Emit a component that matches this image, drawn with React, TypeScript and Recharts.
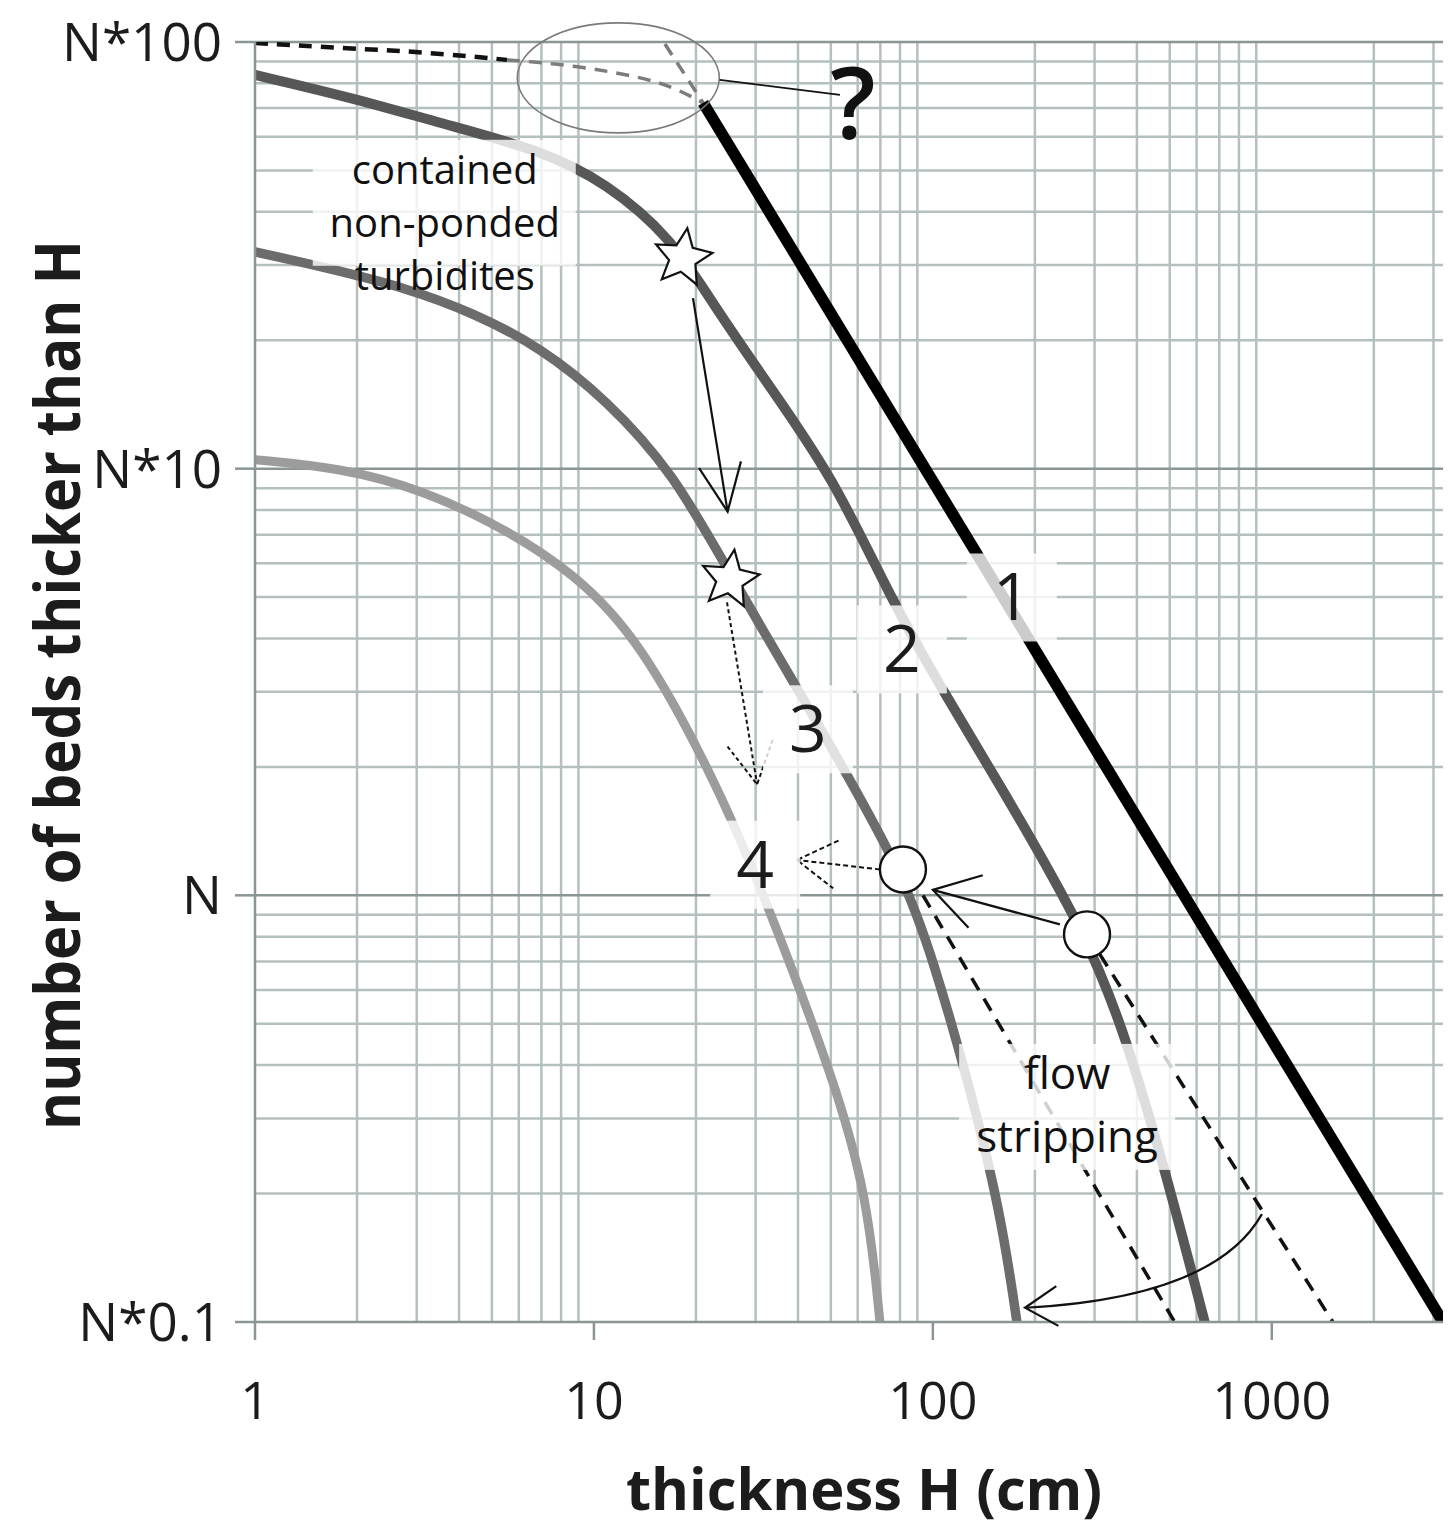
import React from "react";
import {
  ComposedChart,
  Line,
  XAxis,
  YAxis,
  ReferenceLine,
  ReferenceDot,
} from "recharts";

const FONT = "'Open Sans', 'Noto Sans', sans-serif";
const INK = "#1c1c1c";

// axis ticks and grid positions (x: thickness in cm, y: multiples of N)
const X_TICKS = [1, 10, 100, 1000];
const Y_TICKS = [0.1, 1, 10, 100];
const Y_TICK_LABELS = ["N*0.1", "N", "N*10", "N*100"];
const X_GRID = [
  2, 3, 4, 5, 6, 7, 8, 9, 20, 30, 40, 50, 60, 70, 80, 90, 200, 300, 400, 500,
  600, 700, 800, 900, 2000, 3000,
];
const Y_GRID = [
  0.2, 0.3, 0.4, 0.5, 0.6, 0.7, 0.8, 0.9, 2, 3, 4, 5, 6, 7, 8, 9, 20, 30, 40,
  50, 60, 70, 80, 90,
];
const Y_GRID_MAJOR = [1, 10, 100];

// 1: unconfined power law
const BED_1 = [
  { x: 21, y: 72 },
  { x: 3200, y: 0.1 },
];
const BED_1_UP = [
  { x: 16.2, y: 98.9 },
  { x: 21, y: 72 },
];
// uncertain small-bed segment
const TOP_TAPER_A = [
  { x: 1, y: 99.5 },
  { x: 1.78, y: 96.8 },
  { x: 3.13, y: 94.8 },
  { x: 5.54, y: 90.8 },
];
const TOP_TAPER_B = [
  { x: 5.54, y: 90.8 },
  { x: 8.67, y: 88.3 },
  { x: 13.7, y: 82.8 },
  { x: 17.1, y: 78.5 },
  { x: 21, y: 72 },
];
// 2-4: contained, progressively thinner populations
const BED_2 = [
  { x: 1, y: 83.7 },
  { x: 1.95, y: 73.9 },
  { x: 3.51, y: 64.6 },
  { x: 6.93, y: 55.9 },
  { x: 10.9, y: 46.8 },
  { x: 17.1, y: 34.4 },
  { x: 22, y: 24.9 },
  { x: 32.4, y: 15.9 },
  { x: 50.7, y: 9.58 },
  { x: 74.7, y: 5.01 },
  { x: 105, y: 3.09 },
  { x: 150, y: 1.94 },
  { x: 285, y: 0.81 },
  { x: 373, y: 0.46 },
  { x: 490, y: 0.22 },
  { x: 634, y: 0.1 },
];
const BED_3 = [
  { x: 1, y: 32.2 },
  { x: 1.59, y: 29.7 },
  { x: 2.81, y: 26.5 },
  { x: 4.4, y: 23.2 },
  { x: 6.93, y: 19.3 },
  { x: 10.9, y: 14.5 },
  { x: 17.1, y: 9.79 },
  { x: 24.3, y: 5.96 },
  { x: 37.9, y: 3.26 },
  { x: 55.5, y: 1.94 },
  { x: 82.7, y: 1.09 },
  { x: 100, y: 0.708 },
  { x: 126, y: 0.377 },
  { x: 158, y: 0.184 },
  { x: 177, y: 0.1 },
];
const BED_4 = [
  { x: 1, y: 10.5 },
  { x: 1.78, y: 10.05 },
  { x: 3.13, y: 8.93 },
  { x: 5.54, y: 7.19 },
  { x: 8.67, y: 5.71 },
  { x: 13.7, y: 3.98 },
  { x: 23.5, y: 1.77 },
  { x: 32.4, y: 0.96 },
  { x: 50.7, y: 0.377 },
  { x: 63.9, y: 0.2 },
  { x: 69.8, y: 0.1 },
];
// flow-stripping continuations
const STRIP_A = [
  { x: 93.5, y: 1.0 },
  { x: 517, y: 0.1 },
];
const STRIP_B = [
  { x: 311, y: 0.727 },
  { x: 1514, y: 0.1 },
];

const STARS = [
  { x: 18.3, y: 31.2 },
  { x: 25.2, y: 5.5 },
];
const CIRCLES = [
  { x: 81.6, y: 1.15 },
  { x: 285, y: 0.81 },
];

// arrows: [from, to]
const ARROW_STAR = [{ x: 19.6, y: 25.1 }, { x: 24.8, y: 7.93 }];
const ARROW_STAR_2 = [{ x: 24.7, y: 4.86 }, { x: 30.3, y: 1.82 }];
const ARROW_TO_4 = [{ x: 69.8, y: 1.15 }, { x: 39.7, y: 1.21 }];
const ARROW_CIRCLES = [{ x: 237, y: 0.855 }, { x: 100, y: 1.03 }];
const ARROW_STRIP = [{ x: 935, y: 0.179 }, { x: 187, y: 0.108 }];
const QUERY_LEADER = [{ x: 23.5, y: 81.5 }, { x: 53.2, y: 75.2 }];
const QUERY_RING = { x: 11.8, y: 82.4 };

const CURVE_LABELS = [
  { x: 171, y: 4.99, text: "1" },
  { x: 81, y: 3.77, text: "2" },
  { x: 42.8, y: 2.45, text: "3" },
  { x: 29.9, y: 1.18, text: "4" },
];
const NOTE_CONTAINED = { x: 3.63, y: 37.9, lines: ["contained", "non-ponded", "turbidites"] };
const NOTE_STRIP = { x: 249, y: 0.321, lines: ["flow", "stripping"] };
const NOTE_QUERY = { x: 58.1, y: 72, text: "?" };

const XTick = ({ x, y, payload }: any) => (
  <text x={x} y={y} dy={77} textAnchor="middle" fontSize={52} fontFamily={FONT} fill={INK}>
    {payload.value}
  </text>
);

const YTick = ({ x, y, payload }: any) => {
  const i = Y_TICKS.indexOf(payload.value);
  return (
    <text x={x} y={y} dx={-11} dy={19} textAnchor="end" fontSize={53} fontFamily={FONT} fill={INK}>
      {Y_TICK_LABELS[i]}
    </text>
  );
};

const starShape = ({ cx, cy }: any) => {
  const pts: string[] = [];
  for (let i = 0; i < 10; i++) {
    const r = i % 2 === 0 ? 30 : 14;
    const a = -Math.PI / 2 + (i * Math.PI) / 5 + 0.15;
    pts.push(`${cx + r * Math.cos(a)},${cy + r * Math.sin(a)}`);
  }
  return <polygon points={pts.join(" ")} fill="#fff" stroke="#111" strokeWidth={2.2} />;
};

const circleShape = ({ cx, cy }: any) => (
  <circle cx={cx} cy={cy} r={23} fill="#fff" stroke="#111" strokeWidth={2.4} />
);

const ringShape = ({ cx, cy }: any) => (
  <ellipse cx={cx} cy={cy} rx={101} ry={55} fill="none" stroke="#7a7a7a" strokeWidth={1.6} />
);

const curveLabelShape = (text: string) => ({ cx, cy }: any) => (
  <g>
    <rect x={cx - 45} y={cy - 44} width={90} height={88} fill="#fff" fillOpacity={0.8} />
    <text x={cx} y={cy} dy={23} textAnchor="middle" fontSize={66} fontFamily={FONT} fill={INK}>
      {text}
    </text>
  </g>
);

const noteShape = (
  lines: string[],
  box: [number, number, number, number],
  gap: number,
  first: number,
  size: number,
) =>
  ({ cx, cy }: any) => (
    <g>
      <rect x={cx + box[0]} y={cy + box[1]} width={box[2]} height={box[3]} fill="#fff" fillOpacity={0.8} />
      {lines.map((t, i) => (
        <text
          key={t}
          x={cx}
          y={cy + first + i * gap}
          textAnchor="middle"
          fontSize={size}
          fontFamily={FONT}
          fill="#111"
        >
          {t}
        </text>
      ))}
    </g>
  );

const queryShape = ({ cx, cy }: any) => (
  <text x={cx} y={cy} dy={36} textAnchor="middle" fontSize={100} fontWeight={600} fontFamily={FONT} fill="#111">
    ?
  </text>
);

// straight arrow with an open V head at the second point
const arrowShape = (dash?: string, head = 48, spread = 0.5) => (p: any) => {
  const { x1, y1, x2, y2 } = p;
  const a = Math.atan2(y2 - y1, x2 - x1) + Math.PI;
  const h1 = [x2 + head * Math.cos(a - spread), y2 + head * Math.sin(a - spread)];
  const h2 = [x2 + head * Math.cos(a + spread), y2 + head * Math.sin(a + spread)];
  return (
    <g stroke="#111" strokeWidth={dash ? 2 : 2.2} strokeDasharray={dash} fill="none">
      <line x1={x1} y1={y1} x2={x2} y2={y2} />
      <polyline points={`${h1[0]},${h1[1]} ${x2},${y2} ${h2[0]},${h2[1]}`} />
    </g>
  );
};

// bowed arrow for the flow-stripping shift
const bentArrowShape = (p: any) => {
  const { x1, y1, x2, y2 } = p;
  const qx = x1 + (x2 - x1) * 0.2;
  const qy = y2 - 10;
  const a = Math.atan2(y2 - qy, x2 - qx) + Math.PI;
  const head = 38;
  const h1 = [x2 + head * Math.cos(a - 0.55), y2 + head * Math.sin(a - 0.55)];
  const h2 = [x2 + head * Math.cos(a + 0.55), y2 + head * Math.sin(a + 0.55)];
  return (
    <g stroke="#111" strokeWidth={2.2} fill="none">
      <path d={`M${x1},${y1} Q${qx},${qy} ${x2},${y2}`} />
      <polyline points={`${h1[0]},${h1[1]} ${x2},${y2} ${h2[0]},${h2[1]}`} />
    </g>
  );
};

const plainLine = (p: any) => (
  <line x1={p.x1} y1={p.y1} x2={p.x2} y2={p.y2} stroke="#111" strokeWidth={1.8} />
);

const GRID = "#b5bfbf";
const GRID_DARK = "#8b9595";

export default function App() {
  return (
    <div style={{ position: "absolute", left: 0, top: 0, width: 1453, height: 1533, background: "#fff" }}>
      <ComposedChart width={1453} height={1533} margin={{ top: 42, right: 10, bottom: 0, left: 0 }}>
        <XAxis
          type="number"
          dataKey="x"
          scale="log"
          domain={[1, 3200]}
          allowDataOverflow
          ticks={X_TICKS}
          interval={0}
          height={211}
          tickSize={18}
          tick={<XTick />}
          axisLine={{ stroke: GRID_DARK, strokeWidth: 2.5 }}
          tickLine={{ stroke: GRID_DARK, strokeWidth: 2.5 }}
        />
        <YAxis
          type="number"
          dataKey="y"
          scale="log"
          domain={[0.1, 100]}
          allowDataOverflow
          ticks={Y_TICKS}
          interval={0}
          width={255}
          tickSize={20}
          tick={<YTick />}
          axisLine={{ stroke: GRID_DARK, strokeWidth: 2.5 }}
          tickLine={{ stroke: GRID_DARK, strokeWidth: 2.5 }}
        />

        {X_GRID.map((v) => (
          <ReferenceLine key={`gx${v}`} x={v} stroke={GRID} strokeWidth={2.5} zIndex={-100} />
        ))}
        {Y_GRID.map((v) => (
          <ReferenceLine key={`gy${v}`} y={v} stroke={GRID} strokeWidth={2.5} zIndex={-100} />
        ))}
        {Y_GRID_MAJOR.map((v) => (
          <ReferenceLine key={`gm${v}`} y={v} stroke={GRID_DARK} strokeWidth={2.5} zIndex={-100} />
        ))}

        <Line data={TOP_TAPER_A} dataKey="y" type="basis" dot={false} stroke="#111" strokeWidth={4.5} strokeDasharray="13 9" isAnimationActive={false} />
        <Line data={TOP_TAPER_B} dataKey="y" type="basis" dot={false} stroke="#7c7c7c" strokeWidth={3.5} strokeDasharray="13 9" isAnimationActive={false} />
        <Line data={BED_1_UP} dataKey="y" type="linear" dot={false} stroke="#7c7c7c" strokeWidth={3.5} strokeDasharray="13 9" isAnimationActive={false} />
        <Line data={STRIP_A} dataKey="y" type="linear" dot={false} stroke="#111" strokeWidth={3.5} strokeDasharray="14 10" isAnimationActive={false} />
        <Line data={STRIP_B} dataKey="y" type="linear" dot={false} stroke="#111" strokeWidth={3.5} strokeDasharray="14 10" isAnimationActive={false} />
        <Line data={BED_4} dataKey="y" type="basis" dot={false} stroke="#9c9c9c" strokeWidth={9} isAnimationActive={false} />
        <Line data={BED_3} dataKey="y" type="basis" dot={false} stroke="#6c6c6c" strokeWidth={9.5} isAnimationActive={false} />
        <Line data={BED_2} dataKey="y" type="basis" dot={false} stroke="#575757" strokeWidth={10} isAnimationActive={false} />
        <Line data={BED_1} dataKey="y" type="linear" dot={false} stroke="#000" strokeWidth={11.5} isAnimationActive={false} />

        <ReferenceDot x={QUERY_RING.x} y={QUERY_RING.y} shape={ringShape} zIndex={1500} />
        <ReferenceLine segment={QUERY_LEADER} shape={plainLine} zIndex={1500} />
        <ReferenceLine segment={ARROW_STAR} shape={arrowShape(undefined, 52, 0.42)} zIndex={1500} />
        <ReferenceLine segment={ARROW_STAR_2} shape={arrowShape("4 3", 48, 0.5)} zIndex={1500} />
        <ReferenceLine segment={ARROW_TO_4} shape={arrowShape("5 3", 46, 0.55)} zIndex={1500} />
        <ReferenceLine segment={ARROW_CIRCLES} shape={arrowShape(undefined, 52, 0.55)} zIndex={1500} />
        <ReferenceLine segment={ARROW_STRIP} shape={bentArrowShape} zIndex={1500} />

        {CURVE_LABELS.map((l) => (
          <ReferenceDot key={l.text} x={l.x} y={l.y} shape={curveLabelShape(l.text)} zIndex={1600} />
        ))}
        <ReferenceDot
          x={NOTE_CONTAINED.x}
          y={NOTE_CONTAINED.y}
          shape={noteShape(NOTE_CONTAINED.lines, [-132, -82, 263, 126], 53, -38, 40)}
          zIndex={1600}
        />
        <ReferenceDot
          x={NOTE_STRIP.x}
          y={NOTE_STRIP.y}
          shape={noteShape(NOTE_STRIP.lines, [-108, -62, 216, 126], 63, -17, 44)}
          zIndex={1600}
        />
        <ReferenceDot x={NOTE_QUERY.x} y={NOTE_QUERY.y} shape={queryShape} zIndex={1600} />

        {STARS.map((s, i) => (
          <ReferenceDot key={`s${i}`} x={s.x} y={s.y} shape={starShape} zIndex={1700} />
        ))}
        {CIRCLES.map((c, i) => (
          <ReferenceDot key={`c${i}`} x={c.x} y={c.y} shape={circleShape} zIndex={1700} />
        ))}
      </ComposedChart>

      <svg width={1453} height={1533} style={{ position: "absolute", left: 0, top: 0, pointerEvents: "none" }}>
        <text
          transform="translate(80,685) rotate(-90)"
          textAnchor="middle"
          fontSize={62}
          fontWeight={700}
          fontFamily={FONT}
          fill={INK}
          textLength={890}
          lengthAdjust="spacingAndGlyphs"
        >
          number of beds thicker than H
        </text>
        <text
          x={864}
          y={1510}
          textAnchor="middle"
          fontSize={58}
          fontWeight={700}
          fontFamily={FONT}
          fill={INK}
          textLength={476}
          lengthAdjust="spacingAndGlyphs"
        >
          thickness H (cm)
        </text>
      </svg>
    </div>
  );
}
